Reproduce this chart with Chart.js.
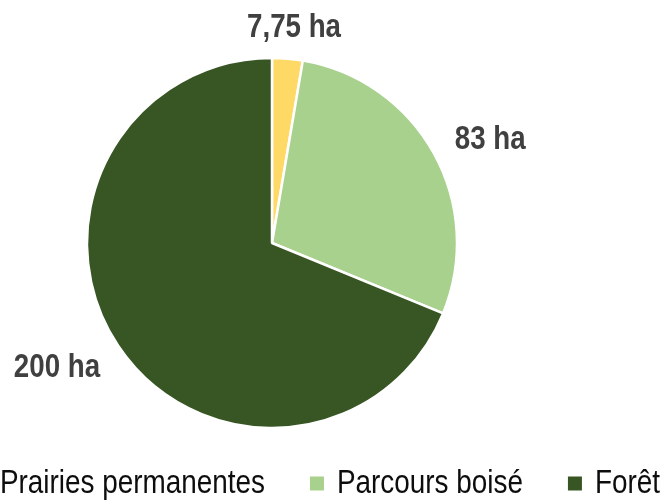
<!DOCTYPE html>
<html>
<head>
<meta charset="utf-8">
<script src="https://cdn.jsdelivr.net/npm/chart.js@4/dist/chart.umd.min.js"></script>
<style>
html,body{margin:0;padding:0;overflow:hidden;width:667px;height:500px;background:#fff;}
#wrap{position:absolute;left:0;top:0;width:667px;height:500px;}
</style>
</head>
<body>
<div id="wrap"><canvas id="c"></canvas></div>
<script>
const categories = ['Prairies permanentes', 'Parcours boisé', 'Forêt'];
const areas = [7.75, 83, 200];
const valueLabels = ['7,75 ha', '83 ha', '200 ha'];
const colors = ['#FFD966', '#A9D18E', '#375623'];

const FONT = '"Liberation Sans", Arial, sans-serif';

// value labels outside the slices (narrow text via horizontal scale)
const outsideLabels = {
  id: 'outsideLabels',
  afterDatasetsDraw(chart) {
    const ctx = chart.ctx;
    const meta = chart.getDatasetMeta(0);
    const sx = 0.84, size = 33, capH = 24;
    ctx.save();
    ctx.font = 'bold ' + size + 'px ' + FONT;
    ctx.fillStyle = '#404040';
    ctx.textAlign = 'center';
    ctx.textBaseline = 'alphabetic';
    meta.data.forEach((arc, i) => {
      const p = arc.getProps(['x','y','startAngle','endAngle','outerRadius'], true);
      const mid = (p.startAngle + p.endAngle) / 2;
      const dx = Math.cos(mid), dy = Math.sin(mid);
      const txt = valueLabels[i];
      const w = ctx.measureText(txt).width * sx;
      const R = p.outerRadius + 22;
      const cx = p.x + dx * R + dx * w * 0.6;
      const cy = p.y + dy * R + dy * capH / 2;
      ctx.save();
      ctx.translate(cx, cy + capH / 2);
      ctx.scale(sx, 1);
      ctx.fillText(txt, 0, 0);
      ctx.restore();
    });
    ctx.restore();
  }
};

// legend row at the bottom, right-aligned, narrow text
const bottomLegend = {
  id: 'bottomLegend',
  afterDraw(chart) {
    const ctx = chart.ctx;
    const sx = 0.82, size = 34;
    const box = 14, boxGap = 13, itemGap = 45;
    const rightEdge = 660, baseline = 493, boxCenterY = 483.5;
    ctx.save();
    ctx.font = size + 'px ' + FONT;
    const widths = categories.map(t => ctx.measureText(t).width * sx);
    let total = 0;
    widths.forEach((w, i) => { total += box + boxGap + w + (i ? itemGap : 0); });
    let x = rightEdge - total;
    categories.forEach((t, i) => {
      ctx.fillStyle = colors[i];
      ctx.fillRect(x, boxCenterY - box / 2, box, box);
      x += box + boxGap;
      ctx.save();
      ctx.translate(x, baseline);
      ctx.scale(sx, 1);
      ctx.fillStyle = '#0d0d0d';
      ctx.textAlign = 'left';
      ctx.textBaseline = 'alphabetic';
      ctx.fillText(t, 0, 0);
      ctx.restore();
      x += widths[i] + itemGap;
    });
    ctx.restore();
  }
};

new Chart(document.getElementById('c'), {
  type: 'pie',
  data: {
    labels: categories,
    datasets: [{
      data: areas,
      backgroundColor: colors,
      borderColor: '#ffffff',
      borderWidth: 2.5
    }]
  },
  options: {
    responsive: true,
    maintainAspectRatio: false,
    animation: false,
    radius: 185,
    layout: { padding: { top: 0, left: 0, right: 123, bottom: 14 } },
    plugins: {
      tooltip: { enabled: false },
      legend: { display: false }
    }
  },
  plugins: [outsideLabels, bottomLegend]
});
</script>
</body>
</html>
